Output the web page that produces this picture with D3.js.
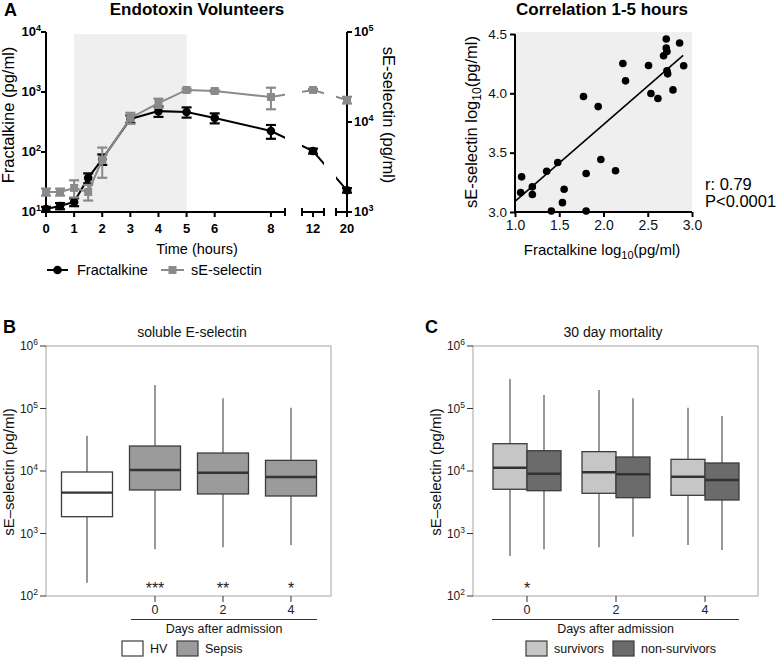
<!DOCTYPE html>
<html>
<head>
<meta charset="utf-8">
<script src="https://cdn.jsdelivr.net/npm/d3@7"></script>
<style>
  body { margin: 0; background: #fff; }
  svg { font-family: "Liberation Sans", Arial, sans-serif; }
</style>
</head>
<body>
<div class="chart"></div>
<script>
var svgWidth = 778;
var svgHeight = 658;

// ---- Panel A: endotoxin volunteers time course
var timeHours = [0, 0.5, 1, 1.5, 2, 3, 4, 5, 6, 8, 12, 20];
var fractalkineMean = [11.2, 12.6, 14.7, 37, 76, 355, 480, 464, 370, 224, 104, 23];
var fractalkineSem = [1, 1.5, 2.2, 7, 15, 50, 95, 90, 70, 58, 10, 2];
var selectinMean = [1670, 1670, 1850, 1670, 3800, 11100, 16250, 22700, 22100, 18950, 22700, 17550];
var selectinSem = [150, 150, 400, 330, 1400, 1550, 1900, 800, 600, 5100, 600, 1500];
var timeTicks = [0, 1, 2, 3, 4, 5, 6, 8, 12, 20];

// ---- Panel A right: correlation 1-5 hours (log10 values)
var corrFractalkine = [1.075, 1.064, 1.196, 1.196, 1.358, 1.483, 1.411, 1.555, 1.536, 1.774, 1.804, 1.804,
  1.94, 1.97, 2.136, 2.219, 2.249, 2.509, 2.536, 2.615, 2.679, 2.709, 2.709, 2.717, 2.717, 2.725, 2.785, 2.86, 2.906];
var corrSelectin = [3.296, 3.164, 3.212, 3.147, 3.344, 3.417, 3.009, 3.192, 3.079, 3.973, 3.324, 3.009,
  3.888, 3.443, 3.347, 4.252, 4.105, 4.235, 3.998, 3.956, 4.317, 4.458, 4.382, 4.353, 4.19, 4.164, 4.029, 4.424, 4.232];
var fitIntercept = 2.443;
var fitSlope = 0.647;
var fitRange = [1.0, 2.9];

// ---- Panel B: soluble E-selectin, boxes [min, q1, median, q3, max]
var bCategories = ["HV", "0", "2", "4"];
var hvStats = [163, 1858, 4500, 9640, 36700];
var sepsisStats = [
  [558, 4970, 10380, 25100, 237700],
  [601, 4290, 9400, 19400, 145500],
  [655, 3980, 8020, 14800, 103000]
];
var bStars = ["***", "**", "*"];

// ---- Panel C: 30 day mortality
var cDays = ["0", "2", "4"];
var survivorsStats = [
  [437, 5100, 11300, 27350, 296600],
  [601, 4400, 9530, 20400, 197700],
  [655, 4080, 8110, 15370, 103000]
];
var nonSurvivorsStats = [
  [558, 4840, 9060, 21100, 164400],
  [889, 3740, 8860, 16750, 145500],
  [545, 3435, 7180, 13430, 75860]
];
var cStars = ["*", "", ""];

var svg = d3.select(".chart")
  .append("svg")
  .attr("width", svgWidth)
  .attr("height", svgHeight);

// helper for 10^n labels
function powLabel(sel, n, bigSize, smallSize) {
  sel.append("tspan").text("10");
  sel.append("tspan").attr("dy", -bigSize * 0.4).attr("font-size", smallSize).text(n);
}

/* =========================== Panel A left =========================== */
var gA = svg.append("g");
var xA = d3.scaleLinear()
  .domain([0, 8.5, 11.4, 12.6, 19.4, 20])
  .range([46, 285, 302, 324, 336, 347]);
var yFk = d3.scaleLog().domain([10, 1e4]).range([212, 32]);
var ySe = d3.scaleLog().domain([1e3, 1e5]).range([212, 32]);

gA.append("text").attr("x", 4).attr("y", 16).attr("font-size", 18).attr("font-weight", "bold").text("A");
gA.append("text").attr("x", 197).attr("y", 15).attr("text-anchor", "middle")
  .attr("font-size", 17).attr("font-weight", "bold").text("Endotoxin Volunteers");

// shaded 1-5 h window
gA.append("rect")
  .attr("x", xA(1)).attr("y", 34)
  .attr("width", xA(5) - xA(1)).attr("height", yFk(10) - 34)
  .attr("fill", "#efefef");

// left axis
gA.append("line").attr("x1", 46).attr("x2", 46).attr("y1", yFk(1e4)).attr("y2", yFk(10))
  .attr("stroke", "#000").attr("stroke-width", 2);
[10, 100, 1000, 10000].forEach(function(v, i) {
  gA.append("line").attr("x1", 41).attr("x2", 46).attr("y1", yFk(v)).attr("y2", yFk(v))
    .attr("stroke", "#000").attr("stroke-width", 2);
  var t = gA.append("text").attr("x", 41).attr("y", yFk(v) + 4).attr("text-anchor", "end")
    .attr("font-size", 13).attr("font-weight", "bold");
  powLabel(t, i + 1, 13, 9);
});
// right axis
gA.append("line").attr("x1", 347).attr("x2", 347).attr("y1", ySe(1e5)).attr("y2", ySe(1e3))
  .attr("stroke", "#000").attr("stroke-width", 2);
[1e3, 1e4, 1e5].forEach(function(v, i) {
  gA.append("line").attr("x1", 347).attr("x2", 352).attr("y1", ySe(v)).attr("y2", ySe(v))
    .attr("stroke", "#000").attr("stroke-width", 2);
  var t = gA.append("text").attr("x", 354).attr("y", ySe(v) + 4)
    .attr("font-size", 13).attr("font-weight", "bold");
  powLabel(t, i + 3, 13, 9);
});

// broken x axis
var xSegments = [[0, 8.5], [11.4, 12.6], [19.4, 20]];
xSegments.forEach(function(s) {
  gA.append("line").attr("x1", xA(s[0])).attr("x2", xA(s[1])).attr("y1", 212).attr("y2", 212)
    .attr("stroke", "#000").attr("stroke-width", 2);
  s.forEach(function(e) {
    gA.append("line").attr("x1", xA(e)).attr("x2", xA(e)).attr("y1", 208).attr("y2", 216)
      .attr("stroke", "#000").attr("stroke-width", 2);
  });
});
timeTicks.forEach(function(t) {
  gA.append("line").attr("x1", xA(t)).attr("x2", xA(t)).attr("y1", 212).attr("y2", 217)
    .attr("stroke", "#000").attr("stroke-width", 2);
  gA.append("text").attr("x", xA(t)).attr("y", 233).attr("text-anchor", "middle")
    .attr("font-size", 13).attr("font-weight", "bold").text(t);
});
gA.append("text").attr("x", 197).attr("y", 254).attr("text-anchor", "middle")
  .attr("font-size", 14.5).text("Time (hours)");
gA.append("text").attr("transform", "translate(14,115) rotate(-90)").attr("text-anchor", "middle")
  .attr("font-size", 16.5).text("Fractalkine (pg/ml)");
gA.append("text").attr("transform", "translate(383,115) rotate(90)").attr("text-anchor", "middle")
  .attr("font-size", 16.5).text("sE-selectin (pg/ml)");

// clip so the lines break where the axis breaks
var clip = svg.append("defs").append("clipPath").attr("id", "segclip");
xSegments.forEach(function(s, i) {
  var x0 = i === 0 ? 30 : xA(s[0]);
  var x1 = i === 2 ? 360 : xA(s[1]);
  clip.append("rect").attr("x", x0).attr("y", 0).attr("width", x1 - x0).attr("height", 260);
});

var fkData = timeHours.map(function(t, i) { return { t: t, m: fractalkineMean[i], s: fractalkineSem[i] }; });
var seData = timeHours.map(function(t, i) { return { t: t, m: selectinMean[i], s: selectinSem[i] }; });

function drawSeries(data, yScale, color, shape) {
  var g = gA.append("g");
  g.append("path").datum(data)
    .attr("clip-path", "url(#segclip)")
    .attr("fill", "none").attr("stroke", color).attr("stroke-width", 2)
    .attr("d", d3.line().x(function(d) { return xA(d.t); }).y(function(d) { return yScale(d.m); }));
  data.forEach(function(d) {
    var x = xA(d.t), y1 = yScale(d.m + d.s), y2 = yScale(Math.max(d.m - d.s, 1));
    g.append("line").attr("x1", x).attr("x2", x).attr("y1", y1).attr("y2", y2)
      .attr("stroke", color).attr("stroke-width", 2);
    [y1, y2].forEach(function(y) {
      g.append("line").attr("x1", x - 5).attr("x2", x + 5).attr("y1", y).attr("y2", y)
        .attr("stroke", color).attr("stroke-width", 2.2);
    });
    if (shape === "circle") {
      g.append("circle").attr("cx", x).attr("cy", yScale(d.m)).attr("r", 4.3).attr("fill", color);
    } else {
      g.append("rect").attr("x", x - 4).attr("y", yScale(d.m) - 4).attr("width", 8).attr("height", 8).attr("fill", color);
    }
  });
}
drawSeries(fkData, yFk, "#000", "circle");
drawSeries(seData, ySe, "#8a8a8a", "square");

// legend
var legA = gA.append("g").attr("transform", "translate(0,270)");
legA.append("line").attr("x1", 47).attr("x2", 68).attr("y1", 0).attr("y2", 0).attr("stroke", "#000").attr("stroke-width", 2);
legA.append("circle").attr("cx", 57.5).attr("cy", 0).attr("r", 4.3).attr("fill", "#000");
legA.append("text").attr("x", 77).attr("y", 5).attr("font-size", 14.5).text("Fractalkine");
legA.append("line").attr("x1", 161).attr("x2", 184).attr("y1", 0).attr("y2", 0).attr("stroke", "#8a8a8a").attr("stroke-width", 2);
legA.append("rect").attr("x", 168.5).attr("y", -4).attr("width", 8).attr("height", 8).attr("fill", "#8a8a8a");
legA.append("text").attr("x", 191).attr("y", 5).attr("font-size", 14.5).text("sE-selectin");

/* =========================== Panel A right =========================== */
var gR = svg.append("g");
var xR = d3.scaleLinear().domain([1, 3]).range([515, 692]);
var yR = d3.scaleLinear().domain([3, 4.5]).range([212, 34]);

gR.append("text").attr("x", 602).attr("y", 15).attr("text-anchor", "middle")
  .attr("font-size", 17).attr("font-weight", "bold").text("Correlation 1-5 hours");
gR.append("rect").attr("x", xR(1)).attr("y", 32).attr("width", xR(3) - xR(1)).attr("height", yR(3) - 32)
  .attr("fill", "#efefef");

gR.append("g").attr("transform", "translate(0,212)")
  .call(d3.axisBottom(xR).tickValues([1, 1.5, 2, 2.5, 3]).tickFormat(d3.format(".1f")).tickSize(5))
  .call(function(g) {
    g.select(".domain").attr("stroke-width", 2).attr("d", "M" + xR(1) + ",0H" + xR(3));
    g.selectAll(".tick line").attr("stroke-width", 2);
    g.selectAll("text").attr("font-size", 14).attr("font-family", null).attr("fill", "#111");
  });
gR.append("g").attr("transform", "translate(515,0)")
  .call(d3.axisLeft(yR).tickValues([3, 3.5, 4, 4.5]).tickFormat(d3.format(".1f")).tickSize(5))
  .call(function(g) {
    g.select(".domain").attr("stroke-width", 2).attr("d", "M0," + yR(4.5) + "V" + yR(3));
    g.selectAll(".tick line").attr("stroke-width", 2);
    g.selectAll("text").attr("font-size", 13.5).attr("font-family", null).attr("fill", "#111");
  });

gR.selectAll("circle.pt").data(corrFractalkine).enter().append("circle")
  .attr("class", "pt")
  .attr("cx", function(d) { return xR(d); })
  .attr("cy", function(d, i) { return yR(corrSelectin[i]); })
  .attr("r", 3.8).attr("fill", "#000");
gR.append("line")
  .attr("x1", xR(fitRange[0])).attr("y1", yR(fitIntercept + fitSlope * fitRange[0]))
  .attr("x2", xR(fitRange[1])).attr("y2", yR(fitIntercept + fitSlope * fitRange[1]))
  .attr("stroke", "#000").attr("stroke-width", 1.6);

var xl = gR.append("text").attr("x", 602).attr("y", 255).attr("text-anchor", "middle").attr("font-size", 15);
xl.append("tspan").text("Fractalkine log");
xl.append("tspan").attr("font-size", 11).attr("dy", 4).text("10");
xl.append("tspan").attr("dy", -4).text("(pg/ml)");
var yl = gR.append("text").attr("transform", "translate(477,122) rotate(-90)").attr("text-anchor", "middle").attr("font-size", 16.5);
yl.append("tspan").text("sE-selectin log");
yl.append("tspan").attr("font-size", 12).attr("dy", 4).text("10");
yl.append("tspan").attr("dy", -4).text("(pg/ml)");

gR.append("text").attr("x", 705).attr("y", 190).attr("font-size", 16.5).text("r: 0.79");
gR.append("text").attr("x", 705).attr("y", 207).attr("font-size", 16.5).text("P<0.0001");

/* =========================== Box panels =========================== */
var yBox = d3.scaleLog().domain([1e2, 1e6]).range([596, 346]);
var boxStroke = "#3c3c3c";

function boxFrame(g, left, right, letter, letterX, title, titleX, labelX) {
  g.append("text").attr("x", letterX).attr("y", 333).attr("font-size", 18).attr("font-weight", "bold").text(letter);
  g.append("text").attr("x", titleX).attr("y", 337).attr("text-anchor", "middle").attr("font-size", 14)
    .attr("fill", "#111").text(title);
  g.append("rect").attr("x", left).attr("y", 346).attr("width", right - left).attr("height", 250)
    .attr("fill", "none").attr("stroke", "#a3a3a3").attr("stroke-width", 1);
  [2, 3, 4, 5, 6].forEach(function(n) {
    var y = yBox(Math.pow(10, n));
    g.append("line").attr("x1", left - 6).attr("x2", left).attr("y1", y).attr("y2", y)
      .attr("stroke", "#333").attr("stroke-width", 1);
    var t = g.append("text").attr("x", left - 8).attr("y", y + 4).attr("text-anchor", "end")
      .attr("font-size", 12).attr("fill", "#222");
    powLabel(t, n, 12, 8.5);
  });
  g.append("text").attr("transform", "translate(" + labelX + ",472) rotate(-90)").attr("text-anchor", "middle")
    .attr("font-size", 15).attr("fill", "#111").text("sE\u2013selectin (pg/ml)");
}

function drawBox(g, cx, w, s, fill) {
  var x0 = cx - w / 2;
  g.append("line").attr("x1", cx).attr("x2", cx).attr("y1", yBox(s[0])).attr("y2", yBox(s[1]))
    .attr("stroke", "#555").attr("stroke-width", 1.2);
  g.append("line").attr("x1", cx).attr("x2", cx).attr("y1", yBox(s[3])).attr("y2", yBox(s[4]))
    .attr("stroke", "#555").attr("stroke-width", 1.2);
  g.append("rect").attr("x", x0).attr("y", yBox(s[3])).attr("width", w).attr("height", yBox(s[1]) - yBox(s[3]))
    .attr("fill", fill).attr("stroke", boxStroke).attr("stroke-width", 1.3);
  g.append("line").attr("x1", x0).attr("x2", x0 + w).attr("y1", yBox(s[2])).attr("y2", yBox(s[2]))
    .attr("stroke", "#333").attr("stroke-width", 2.4);
}

function dayAxis(g, xs, days, lineX0, lineX1) {
  days.forEach(function(d, i) {
    g.append("line").attr("x1", xs(d)).attr("x2", xs(d)).attr("y1", 596).attr("y2", 602)
      .attr("stroke", "#333").attr("stroke-width", 1);
    g.append("text").attr("x", xs(d)).attr("y", 614).attr("text-anchor", "middle")
      .attr("font-size", 12.5).attr("fill", "#222").text(d);
  });
  g.append("line").attr("x1", lineX0).attr("x2", lineX1).attr("y1", 619.5).attr("y2", 619.5)
    .attr("stroke", "#333").attr("stroke-width", 1.2);
  g.append("text").attr("x", (lineX0 + lineX1) / 2).attr("y", 633).attr("text-anchor", "middle")
    .attr("font-size", 12.5).attr("fill", "#111").text("Days after admission");
}

function legendItem(g, x, fill, label) {
  g.append("rect").attr("x", x).attr("y", 641).attr("width", 21).attr("height", 15)
    .attr("fill", fill).attr("stroke", boxStroke).attr("stroke-width", 1.2);
  g.append("text").attr("x", x + 28).attr("y", 653).attr("font-size", 12.5).attr("fill", "#111").text(label);
}

// ---- Panel B
var gB = svg.append("g");
boxFrame(gB, 46, 331, "B", 3, "soluble E-selectin", 192, 14);
var xB = d3.scalePoint().domain(bCategories).range([87, 291]);
drawBox(gB, xB("HV"), 51, hvStats, "#fff");
sepsisStats.forEach(function(s, i) {
  drawBox(gB, xB(bCategories[i + 1]), 51, s, "#9b9b9b");
  gB.append("text").attr("x", xB(bCategories[i + 1])).attr("y", 594).attr("text-anchor", "middle")
    .attr("font-size", 16).attr("fill", "#222").text(bStars[i]);
});
dayAxis(gB, xB, bCategories.slice(1), 131, 317);
legendItem(gB, 122, "#fff", "HV");
legendItem(gB, 177, "#9b9b9b", "Sepsis");

// ---- Panel C
var gC = svg.append("g");
boxFrame(gC, 473, 758, "C", 425, "30 day mortality", 613, 441);
var xCd = d3.scalePoint().domain(cDays).range([527, 705]);
cDays.forEach(function(d, i) {
  drawBox(gC, xCd(d) - 17, 34, survivorsStats[i], "#c6c6c6");
  drawBox(gC, xCd(d) + 17, 34, nonSurvivorsStats[i], "#6b6b6b");
  if (cStars[i]) {
    gC.append("text").attr("x", xCd(d)).attr("y", 594).attr("text-anchor", "middle")
      .attr("font-size", 16).attr("fill", "#222").text(cStars[i]);
  }
});
dayAxis(gC, xCd, cDays, 492, 739);
legendItem(gC, 526, "#c6c6c6", "survivors");
legendItem(gC, 613, "#6b6b6b", "non-survivors");
</script>
</body>
</html>
